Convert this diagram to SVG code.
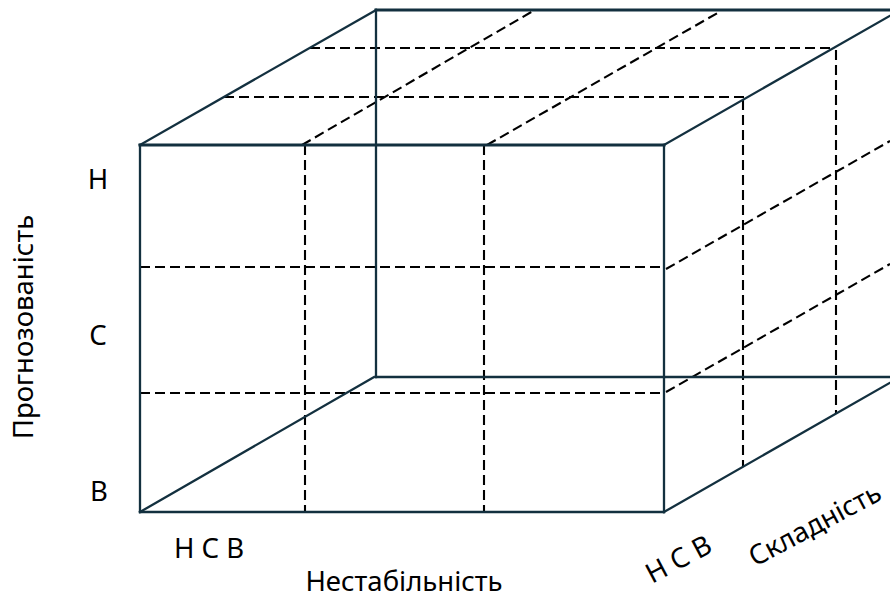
<svg xmlns="http://www.w3.org/2000/svg" width="890" height="598" viewBox="0 0 890 598">
<style>
.s{stroke:#13303f;stroke-width:2.3;fill:none;stroke-linecap:square}
.t{stroke-width:3}
.d{stroke:#000;stroke-width:2.1;fill:none;stroke-dasharray:10 5}
text{font-family:"Noto Sans","Open Sans","DejaVu Sans",sans-serif;font-size:27.5px;fill:#000}
</style>
<rect width="890" height="598" fill="#fff"/>
<g id="dashed">
<line class="d" x1="305" y1="145" x2="305" y2="512"/>
<line class="d" x1="484" y1="145" x2="484" y2="512"/>
<line class="d" x1="140" y1="267" x2="664" y2="267"/>
<line class="d" x1="140" y1="393" x2="664" y2="393"/>
<line class="d" x1="302" y1="145" x2="533" y2="11"/>
<line class="d" x1="487" y1="145" x2="721" y2="11"/>
<line class="d" x1="224" y1="97" x2="745" y2="97"/>
<line class="d" x1="310" y1="48" x2="833" y2="48"/>
<line class="d" x1="743" y1="100" x2="743" y2="467"/>
<line class="d" x1="836" y1="50" x2="836" y2="414"/>
<line class="d" x1="666" y1="269" x2="890" y2="141"/>
<line class="d" x1="666" y1="392" x2="890" y2="264"/>
</g>
<g id="cube">
<line class="s" x1="376" y1="10" x2="376" y2="377"/>
<line class="s" x1="376" y1="377" x2="890" y2="377"/>
<line class="s" x1="140" y1="512" x2="374" y2="377"/>
<line class="s" x1="664" y1="512" x2="900" y2="377"/>
<line class="s t" x1="376" y1="10" x2="890" y2="10"/>
<line class="s" x1="140" y1="145" x2="376" y2="10"/>
<line class="s" x1="664" y1="145" x2="900" y2="10"/>
<line class="s t" x1="140" y1="145" x2="664" y2="145"/>
<line class="s" x1="140" y1="145" x2="140" y2="512"/>
<line class="s" x1="664" y1="145" x2="664" y2="512"/>
<line class="s" x1="140" y1="512" x2="664" y2="512"/>
</g>
<g id="labels">
<text x="98" y="189" text-anchor="middle">Н</text>
<text x="98" y="345" text-anchor="middle">С</text>
<text x="99" y="501" text-anchor="middle">В</text>
<text transform="translate(33,327) rotate(-90)" text-anchor="middle">Прогнозованість</text>
<text x="174" y="558">Н С В</text>
<text x="404" y="591" text-anchor="middle">Нестабільність</text>
<text transform="translate(652,584) rotate(-28)">Н С В</text>
<text transform="translate(755,567) rotate(-28)">Складність</text>
</g>
</svg>
